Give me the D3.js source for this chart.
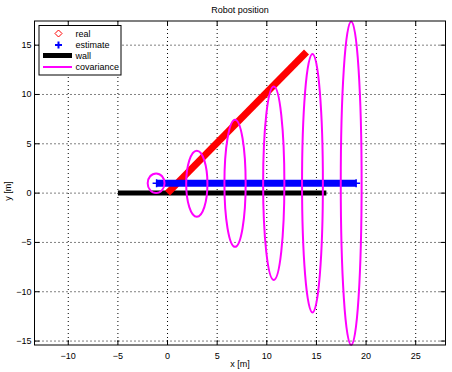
<!DOCTYPE html>
<meta charset="utf-8">
<style>
    body { margin: 0; background: #fff; }
    text { font-family: "Liberation Sans", Arial, sans-serif; font-size: 9px; fill: #000; }
    .grid line { stroke: #000; stroke-width: 1; stroke-dasharray: 1,3; }
</style>
<svg id="svg" width="452" height="372"></svg>
<script src="https://d3js.org/d3.v7.min.js"></script>
<script>

// data (metres)
var xTicks = [-10, -5, 0, 5, 10, 15, 20, 25];
var yTicks = [-15, -10, -5, 0, 5, 10, 15];
var realPath = [[0, 0], [14, 14.3]];
var estimatePath = [[-1.1, 1], [19, 1]];
var wallPath = [[-5, 0], [16, 0]];
// covariance ellipses: centre x, centre y, half width, half height
var covCx = [-1.15, 2.95, 6.8, 10.7, 14.6, 18.5];
var covCy = [1, 0.95, 1, 1, 1, 1];
var covRx = [0.85, 1.07, 1.07, 1.07, 1.05, 1.05];
var covRy = [1.0, 3.35, 6.45, 9.8, 13.1, 16.4];

var svg = d3.select("#svg");
var pLeft = 34.5, pRight = 445.5, pTop = 21, pBottom = 345;

var x = d3.scaleLinear().domain([-13.4, 28.0]).range([pLeft, pRight]);
var y = d3.scaleLinear().domain([-15.4, 17.45]).range([pBottom, pTop]);

// grid
var grid = svg.append("g").attr("class", "grid");
grid.selectAll(".gx").data(xTicks).enter().append("line")
    .attr("x1", function(d) { return x(d); }).attr("x2", function(d) { return x(d); })
    .attr("y1", pTop).attr("y2", pBottom);
grid.selectAll(".gy").data(yTicks).enter().append("line")
    .attr("y1", function(d) { return y(d); }).attr("y2", function(d) { return y(d); })
    .attr("x1", pLeft).attr("x2", pRight);

var line = d3.line().x(function(d) { return x(d[0]); }).y(function(d) { return y(d[1]); });

// wall
svg.append("path").attr("d", line(wallPath))
    .attr("stroke", "#000").attr("stroke-width", 5).attr("fill", "none");

// real trajectory (dense diamonds -> thick red band)
svg.append("path").attr("d", line(realPath))
    .attr("stroke", "#ff0000").attr("stroke-width", 7).attr("fill", "none");

// estimate
svg.append("path").attr("d", line(estimatePath))
    .attr("stroke", "#0000ff").attr("stroke-width", 7).attr("fill", "none");
svg.selectAll(".est-end").data(estimatePath).enter().append("path")
    .attr("transform", function(d) { return "translate(" + x(d[0]) + "," + y(d[1]) + ")"; })
    .attr("d", "M-4,0H4M0,-4V4")
    .attr("stroke", "#0000ff").attr("stroke-width", 1.5);

// covariance
svg.selectAll(".cov").data(covCx).enter().append("ellipse")
    .attr("cx", function(d) { return x(d); })
    .attr("cy", function(d, i) { return y(covCy[i]); })
    .attr("rx", function(d, i) { return x(d + covRx[i]) - x(d); })
    .attr("ry", function(d, i) { return y(covCy[i]) - y(covCy[i] + covRy[i]); })
    .attr("fill", "none").attr("stroke", "#ff00ff").attr("stroke-width", 2);

// frame and inward ticks
svg.append("rect").attr("x", pLeft).attr("y", pTop)
    .attr("width", pRight - pLeft).attr("height", pBottom - pTop)
    .attr("fill", "none").attr("stroke", "#000").attr("stroke-width", 1);

var tl = 5;
var ticks = svg.append("g").attr("stroke", "#000").attr("stroke-width", 1);
xTicks.forEach(function(d) {
    ticks.append("line").attr("x1", x(d)).attr("x2", x(d)).attr("y1", pBottom).attr("y2", pBottom - tl);
    ticks.append("line").attr("x1", x(d)).attr("x2", x(d)).attr("y1", pTop).attr("y2", pTop + tl);
});
yTicks.forEach(function(d) {
    ticks.append("line").attr("y1", y(d)).attr("y2", y(d)).attr("x1", pLeft).attr("x2", pLeft + tl);
    ticks.append("line").attr("y1", y(d)).attr("y2", y(d)).attr("x1", pRight).attr("x2", pRight - tl);
});

var fmt = function(d) { return d < 0 ? "\u2212" + Math.abs(d) : "" + d; };
svg.selectAll(".xl").data(xTicks).enter().append("text")
    .attr("x", function(d) { return x(d); }).attr("y", pBottom + 14)
    .attr("text-anchor", "middle").text(fmt);
svg.selectAll(".yl").data(yTicks).enter().append("text")
    .attr("x", pLeft - 3).attr("y", function(d) { return y(d) + 3; })
    .attr("text-anchor", "end").text(fmt);

svg.append("text").attr("x", (pLeft + pRight) / 2).attr("y", 13)
    .attr("text-anchor", "middle").text("Robot position");
svg.append("text").attr("x", (pLeft + pRight) / 2).attr("y", 367)
    .attr("text-anchor", "middle").text("x [m]");
svg.append("text").attr("transform", "translate(11,191) rotate(-90)")
    .attr("text-anchor", "middle").text("y [m]");

// legend
var lg = svg.append("g");
lg.append("rect").attr("x", 39).attr("y", 25.5).attr("width", 82).attr("height", 49.5)
    .attr("fill", "#fff").attr("stroke", "#000");
var legendNames = ["real", "estimate", "wall", "covariance"];
var ly = [33.5, 45, 55.5, 67];
lg.append("path").attr("d", "M58.5," + (ly[0] - 3.5) + "L62," + ly[0] + "L58.5," + (ly[0] + 3.5) + "L55," + ly[0] + "Z")
    .attr("fill", "none").attr("stroke", "#ff0000").attr("stroke-width", 1);
lg.append("path").attr("d", "M55," + ly[1] + "H62M58.5," + (ly[1] - 3.5) + "V" + (ly[1] + 3.5))
    .attr("stroke", "#0000ff").attr("stroke-width", 2);
lg.append("line").attr("x1", 43).attr("x2", 72).attr("y1", ly[2]).attr("y2", ly[2])
    .attr("stroke", "#000").attr("stroke-width", 5);
lg.append("line").attr("x1", 43).attr("x2", 72).attr("y1", ly[3]).attr("y2", ly[3])
    .attr("stroke", "#ff00ff").attr("stroke-width", 2);
lg.selectAll(".lt").data(legendNames).enter().append("text")
    .attr("x", 75.5).attr("y", function(d, i) { return ly[i] + 3; })
    .text(function(d) { return d; });

</script>
